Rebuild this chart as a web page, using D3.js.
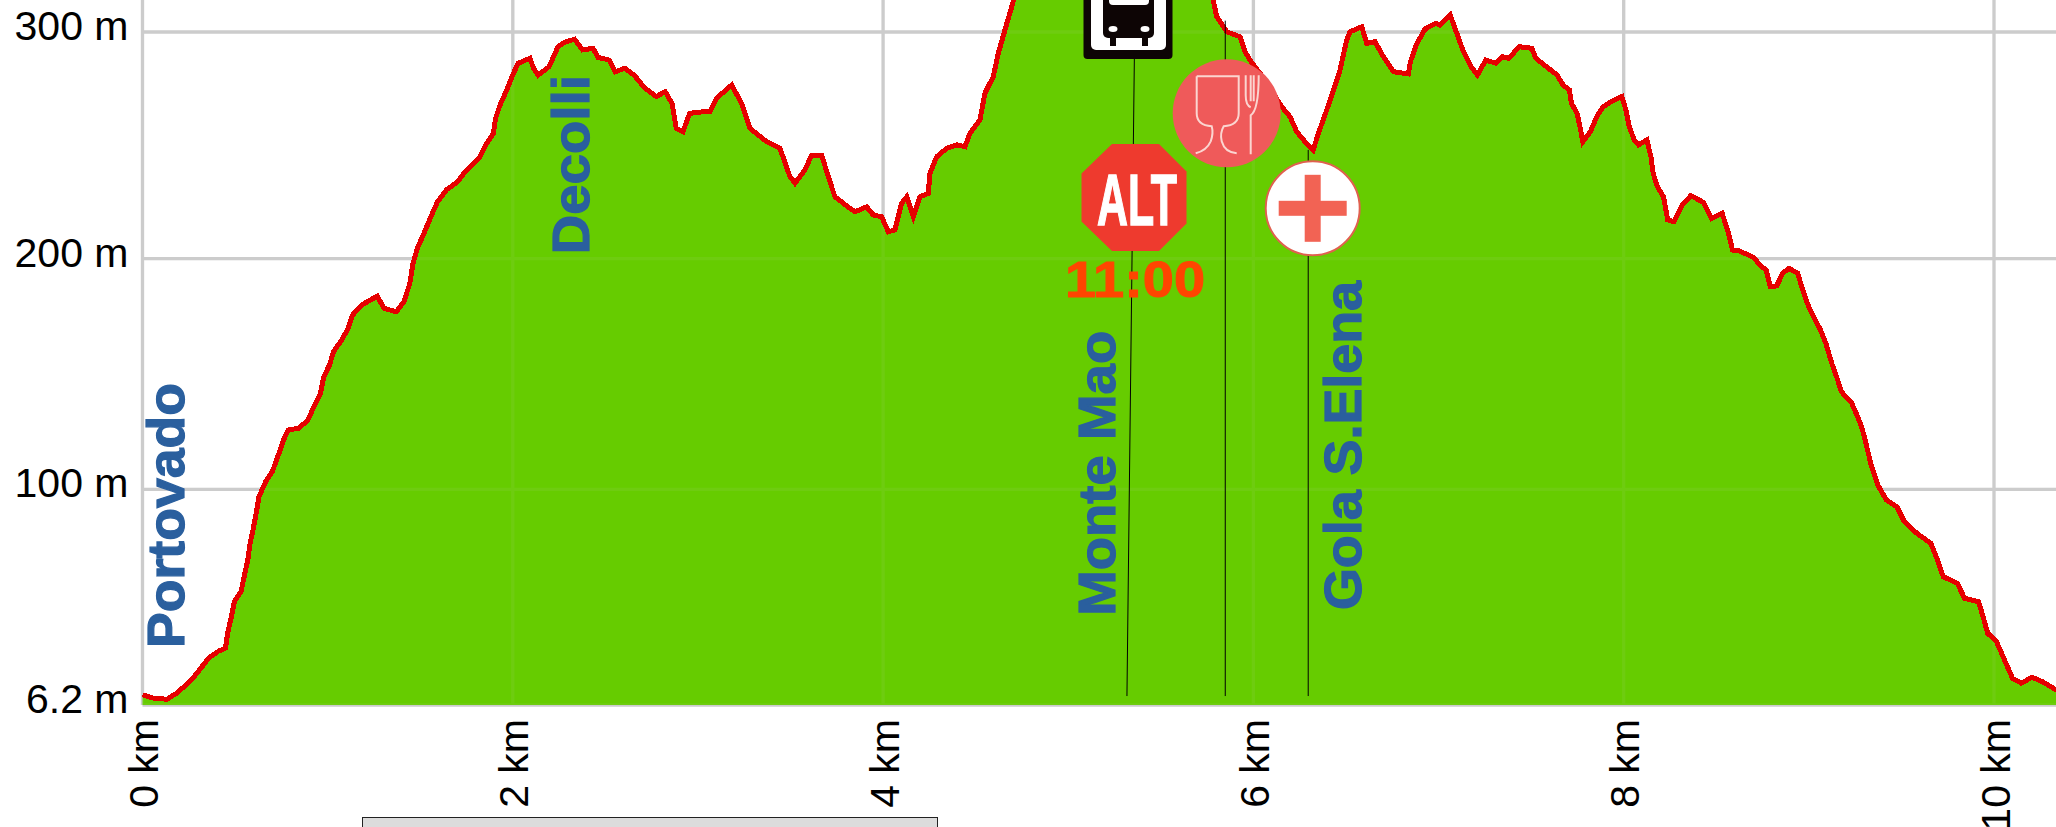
<!DOCTYPE html>
<html>
<head>
<meta charset="utf-8">
<script src="https://d3js.org/d3.v7.min.js"></script>
<style>
  html, body { margin: 0; padding: 0; background: #fff; overflow: hidden; }
  svg { display: block; }
  text { font-family: "Liberation Sans", Arial, sans-serif; }
  .tick line, .domain { display: none; }
  .tick text { fill: #000; font-size: 41px; }
</style>
</head>
<body>
<svg id="chart" width="2056" height="827"></svg>
<script>
// distance along the route (km)
let km = [
  0, 0.062, 0.134, 0.183, 0.231, 0.272, 0.315, 0.356, 0.412, 0.448,
  0.460, 0.480, 0.496, 0.532, 0.549, 0.569, 0.581, 0.597, 0.617, 0.629,
  0.665, 0.701, 0.737, 0.762, 0.786, 0.845, 0.894, 0.930, 0.961, 0.979,
  1.010, 1.032, 1.075, 1.111, 1.135, 1.183, 1.268, 1.304, 1.371, 1.412,
  1.444, 1.461, 1.485, 1.520, 1.562, 1.593, 1.641, 1.702, 1.750, 1.823,
  1.859, 1.895, 1.907, 1.931, 1.967, 1.996, 2.028, 2.093, 2.112, 2.136,
  2.196, 2.220, 2.244, 2.280, 2.334, 2.377, 2.433, 2.461, 2.522, 2.553,
  2.606, 2.655, 2.714, 2.775, 2.823, 2.860, 2.883, 2.919, 2.955, 3.011,
  3.065, 3.101, 3.182, 3.236, 3.281, 3.371, 3.443, 3.497, 3.524, 3.578,
  3.614, 3.668, 3.704, 3.740, 3.821, 3.848, 3.911, 3.947, 3.992, 4.028,
  4.064, 4.100, 4.128, 4.163, 4.199, 4.244, 4.253, 4.290, 4.344, 4.398,
  4.442, 4.469, 4.523, 4.550, 4.595, 4.622, 4.658, 4.695, 4.712, 4.847,
  5.036, 5.225, 5.442, 5.658, 5.766, 5.783, 5.802, 5.856, 5.928, 5.955,
  5.982, 6.063, 6.153, 6.198, 6.234, 6.279, 6.323, 6.351, 6.396, 6.432,
  6.468, 6.504, 6.522, 6.585, 6.612, 6.657, 6.702, 6.756, 6.837, 6.848,
  6.882, 6.927, 6.984, 7.006, 7.063, 7.092, 7.131, 7.175, 7.210, 7.255,
  7.311, 7.345, 7.379, 7.436, 7.504, 7.526, 7.572, 7.640, 7.673, 7.707,
  7.718, 7.748, 7.764, 7.779, 7.820, 7.854, 7.888, 7.933, 7.990, 8.012,
  8.030, 8.057, 8.080, 8.125, 8.147, 8.159, 8.182, 8.215, 8.238, 8.272,
  8.317, 8.362, 8.430, 8.475, 8.532, 8.566, 8.588, 8.622, 8.702, 8.735,
  8.769, 8.792, 8.826, 8.859, 8.893, 8.939, 8.973, 9.002, 9.029, 9.063,
  9.092, 9.124, 9.153, 9.176, 9.232, 9.267, 9.285, 9.304, 9.334, 9.372,
  9.419, 9.477, 9.516, 9.583, 9.659, 9.688, 9.726, 9.802, 9.841, 9.917,
  9.946, 9.966, 10.014, 10.061, 10.100, 10.148, 10.205, 10.263, 10.330, 10.360
];

// elevation at each distance (m)
let elevation = [
  10.6, 9.1, 8.7, 11.3, 14.6, 17.8, 22.2, 26.5, 29.7, 30.9,
  37.4, 44.6, 51.1, 55.5, 62, 69.3, 76.5, 82.3, 91, 96.8,
  103.3, 107.6, 115.6, 121.4, 125.7, 126.5, 130.1, 136.6, 141.6, 148.8,
  153.9, 159.7, 164.7, 169.8, 175.6, 179.9, 183.8, 178.5, 177, 181.4,
  189.3, 198, 204.6, 211.2, 219.3, 225.1, 230.3, 234, 239.1, 245,
  250.9, 255.3, 261.9, 267.8, 274.4, 280.3, 286.2, 288.4, 284, 281,
  284.7, 289.1, 293.5, 295.5, 296.8, 292.1, 292.8, 288.8, 287.6, 282.5,
  284, 281, 275.2, 271.5, 273.7, 268.5, 257.5, 256, 264.1, 264.7,
  264.8, 270.8, 276.6, 268.5, 257.5, 251.6, 248.7, 236.2, 233.3, 239.1,
  245.7, 245.7, 236.2, 227.3, 222.2, 220.7, 222.9, 219.3, 218.5, 211.9,
  212.7, 224.4, 227.3, 218.5, 227.3, 228.8, 237.7, 245, 248.7, 250.2,
  249.4, 255.3, 261.2, 273, 280.3, 290.6, 300.9, 311.2, 316.3, 327.3,
  330.9, 336.2, 334, 326.5, 317.6, 314.1, 306.7, 300.1, 297.9, 291.3,
  287.6, 278.8, 267, 262.6, 256, 251.6, 248, 255.3, 265.6, 274.4,
  283.2, 296.5, 300.1, 302.3, 295, 295.7, 289.1, 282.5, 281.5, 286.9,
  294.7, 301.3, 303.8, 303.1, 307.5, 300.9, 292.1, 284.7, 281, 287.6,
  286.2, 289.1, 288.4, 293.5, 292.8, 288.4, 285.4, 281, 276.6, 274.4,
  268.5, 264.1, 258.2, 251.6, 256, 262.6, 267, 269.3, 271.5, 265.6,
  258.2, 252.4, 250.2, 252.4, 245, 237.7, 231.8, 227.3, 217.1, 216.3,
  223.7, 227.8, 224.9, 217.8, 220, 211.2, 203.8, 203.5, 200.6, 197.3,
  195.1, 187.9, 188.2, 193.7, 195.8, 193.7, 185, 178.5, 174.2, 169.1,
  163.3, 154.6, 148.1, 142.3, 137.3, 130.8, 127.1, 121.4, 111.3, 101.9,
  95.3, 92.2, 85.9, 80.9, 76.5, 70.7, 62, 59.1, 52.6, 51.1,
  43.2, 37.4, 33.7, 25, 17.8, 15.7, 18.3, 16.3, 13, 12
];

let xTicks = [0, 2, 4, 6, 8, 10];
let yTicks = [6.2, 100, 200, 300];

let placeNames = ["Portovado", "Decolli", "Monte Mao", "Gola S.Elena"];
let placeLengths = [265, 179, 285, 329];
let poleKm = [5.848, 6.296];
let poleTop = [305, 248];
let altTime = "11:00";

let data = km.map((k, i) => ({km: k, m: elevation[i]}));

let svg = d3.select("#chart");

let xScale = d3.scaleLinear().domain([0, 10]).range([142.5, 1994]);

// the picture's elevation axis is not quite even, so map through each tick
let yScale = d3.scaleLinear()
               .domain(yTicks)
               .range([705, 489.3, 258.7, 32]);

function drawGrid(opacity){
  let grid = svg.append("g")
                .attr("stroke", "#ccc")
                .attr("stroke-width", 3.3)
                .attr("opacity", opacity);

  grid.selectAll(".v")
      .data(xTicks)
      .enter().append("line")
      .attr("x1", d => xScale(d))
      .attr("x2", d => xScale(d))
      .attr("y1", 0)
      .attr("y2", yScale(6.2));

  grid.selectAll(".h")
      .data(yTicks)
      .enter().append("line")
      .attr("x1", xScale(0))
      .attr("x2", 2056)
      .attr("y1", d => yScale(d))
      .attr("y2", d => yScale(d));
}

drawGrid(1);

let areaGen = d3.area()
                .x(d => xScale(d.km))
                .y0(yScale(6.2))
                .y1(d => yScale(d.m));

let lineGen = d3.line()
                .x(d => xScale(d.km))
                .y(d => yScale(d.m));

svg.append("path")
   .datum(data)
   .attr("d", areaGen)
   .attr("fill", "#66cc00");

// grid shows faintly through the fill
drawGrid(0.08);

svg.append("path")
   .datum(data)
   .attr("d", lineGen)
   .attr("fill", "none")
   .attr("stroke", "#e60000")
   .attr("stroke-width", 5)
   .attr("shape-rendering", "crispEdges");

// Axes:
let yAxis = d3.axisLeft(yScale)
              .tickValues(yTicks)
              .tickSize(0)
              .tickPadding(14)
              .tickFormat(d => d + " m");

svg.append("g")
   .attr("transform", "translate(" + xScale(0) + ", 0)")
   .call(yAxis)
   .selectAll("text")
   .attr("dy", "0.18em");

let xAxis = d3.axisBottom(xScale)
              .tickValues(xTicks)
              .tickSize(0)
              .tickFormat(d => d + " km");

svg.append("g")
   .attr("transform", "translate(0, " + yScale(6.2) + ")")
   .call(xAxis)
   .selectAll("text")
   .attr("text-anchor", "end")
   .attr("transform", "rotate(-90)")
   .attr("x", -14)
   .attr("y", 15)
   .attr("dy", 0);

// Poles under the icons:
function pole(x1, y1, x2, y2){
  svg.append("line")
     .attr("x1", x1).attr("y1", y1)
     .attr("x2", x2).attr("y2", y2)
     .attr("stroke", "#000")
     .attr("stroke-width", 1);
}

pole(xScale(5.317), yScale(10.1), xScale(5.357), yScale(288.1));
poleKm.forEach((k, i) => pole(xScale(k), yScale(10.1), xScale(k), yScale(poleTop[i])));

// Place names:
let placeAnchors = [
  {km: 0.225, m: 31},
  {km: 2.41, m: 202},
  {km: 5.25, m: 45},
  {km: 6.58, m: 47.5}
];

placeNames.forEach((name, i) => {
  let a = placeAnchors[i];
  svg.append("text")
     .attr("transform", "translate(" + xScale(a.km) + "," + yScale(a.m) + ") rotate(-90)")
     .attr("fill", "#2a5f9e")
     .attr("stroke", "#2a5f9e")
     .attr("stroke-width", 1.2)
     .attr("font-weight", "bold")
     .attr("font-size", 52)
     .attr("textLength", placeLengths[i])
     .attr("lengthAdjust", "spacingAndGlyphs")
     .text(name);
});

// Bus stop sign, cropped by the top of the picture:
let bus = svg.append("g").attr("transform", "translate(1128, 59)");
bus.append("rect").attr("x", -44.5).attr("y", -89).attr("width", 89).attr("height", 89).attr("rx", 4).attr("fill", "#0d0505");
bus.append("rect").attr("x", -37).attr("y", -85).attr("width", 75).attr("height", 76).attr("rx", 5).attr("fill", "#fff");
bus.append("rect").attr("x", -25).attr("y", -70).attr("width", 51).attr("height", 49).attr("rx", 5).attr("fill", "#0d0505");
bus.append("rect").attr("x", -19).attr("y", -75).attr("width", 40).attr("height", 21).attr("rx", 4).attr("fill", "#fff");
[-15, 17].forEach(x => {
  bus.append("ellipse").attr("cx", x).attr("cy", -30).attr("rx", 4.5).attr("ry", 3).attr("fill", "#fff");
  bus.append("rect").attr("x", x - 3).attr("y", -22).attr("width", 6).attr("height", 9).attr("fill", "#0d0505");
});

// Halt sign:
let alt = svg.append("g").attr("transform", "translate(1134, 197.5)");
alt.append("polygon")
   .attr("points", "-22,-53.5 25,-53.5 52.5,-26 52.5,26 25,53.5 -22,53.5 -52.5,24 -52.5,-24")
   .attr("fill", "#ee3a2e");
alt.append("text")
   .attr("text-anchor", "middle")
   .attr("x", 3)
   .attr("y", 27.5)
   .attr("fill", "#fff")
   .attr("stroke", "#fff")
   .attr("stroke-width", 1.5)
   .attr("font-weight", "bold")
   .attr("font-size", 72)
   .attr("textLength", 80)
   .attr("lengthAdjust", "spacingAndGlyphs")
   .style("font-family", "'Liberation Sans Narrow', 'Liberation Sans', sans-serif")
   .text("ALT");

svg.append("text")
   .attr("x", 1135)
   .attr("y", 297)
   .attr("text-anchor", "middle")
   .attr("fill", "#ff4500")
   .attr("stroke", "#ff4500")
   .attr("stroke-width", 1)
   .attr("font-weight", "bold")
   .attr("font-size", 50)
   .attr("textLength", 140)
   .attr("lengthAdjust", "spacingAndGlyphs")
   .text(altTime);

// Food sign:
let food = svg.append("g").attr("transform", "translate(1226.7, 113.3)");
food.append("circle").attr("r", 54).attr("fill", "#ef5a5a");
food.append("path")
    .attr("d", "M-30,-37 L12,-37 L12,0 Q12,12 -3,13 Q-7,20 -5,28 Q-2,39 10,40 M-30,-37 L-30,0 Q-30,12 -15,13 Q-13,20 -16,28 Q-20,37 -31,40"
             + " M24,41 L24,2 Q32,-3 32,-38 M19,-38 L19,-18 Q19,-8 24,-6 M24,-38 L24,-12 M27,-38 L27,-12")
    .attr("fill", "none")
    .attr("stroke", "#fbd5d0")
    .attr("stroke-width", 2);

// First aid sign:
let aid = svg.append("g").attr("transform", "translate(1312.7, 208.3)");
aid.append("circle").attr("r", 47).attr("fill", "#fff").attr("stroke", "#e0604f").attr("stroke-width", 2);
aid.append("rect").attr("x", -34).attr("y", -7.5).attr("width", 68).attr("height", 15).attr("fill", "#f26354");
aid.append("rect").attr("x", -8).attr("y", -33.5).attr("width", 16).attr("height", 67).attr("fill", "#f26354");

// Empty panel below the chart:
svg.append("rect")
   .attr("x", 362.5)
   .attr("y", 817.5)
   .attr("width", 575)
   .attr("height", 20)
   .attr("fill", "#dcdcdc")
   .attr("stroke", "#222")
   .attr("stroke-width", 1);
</script>
</body>
</html>
